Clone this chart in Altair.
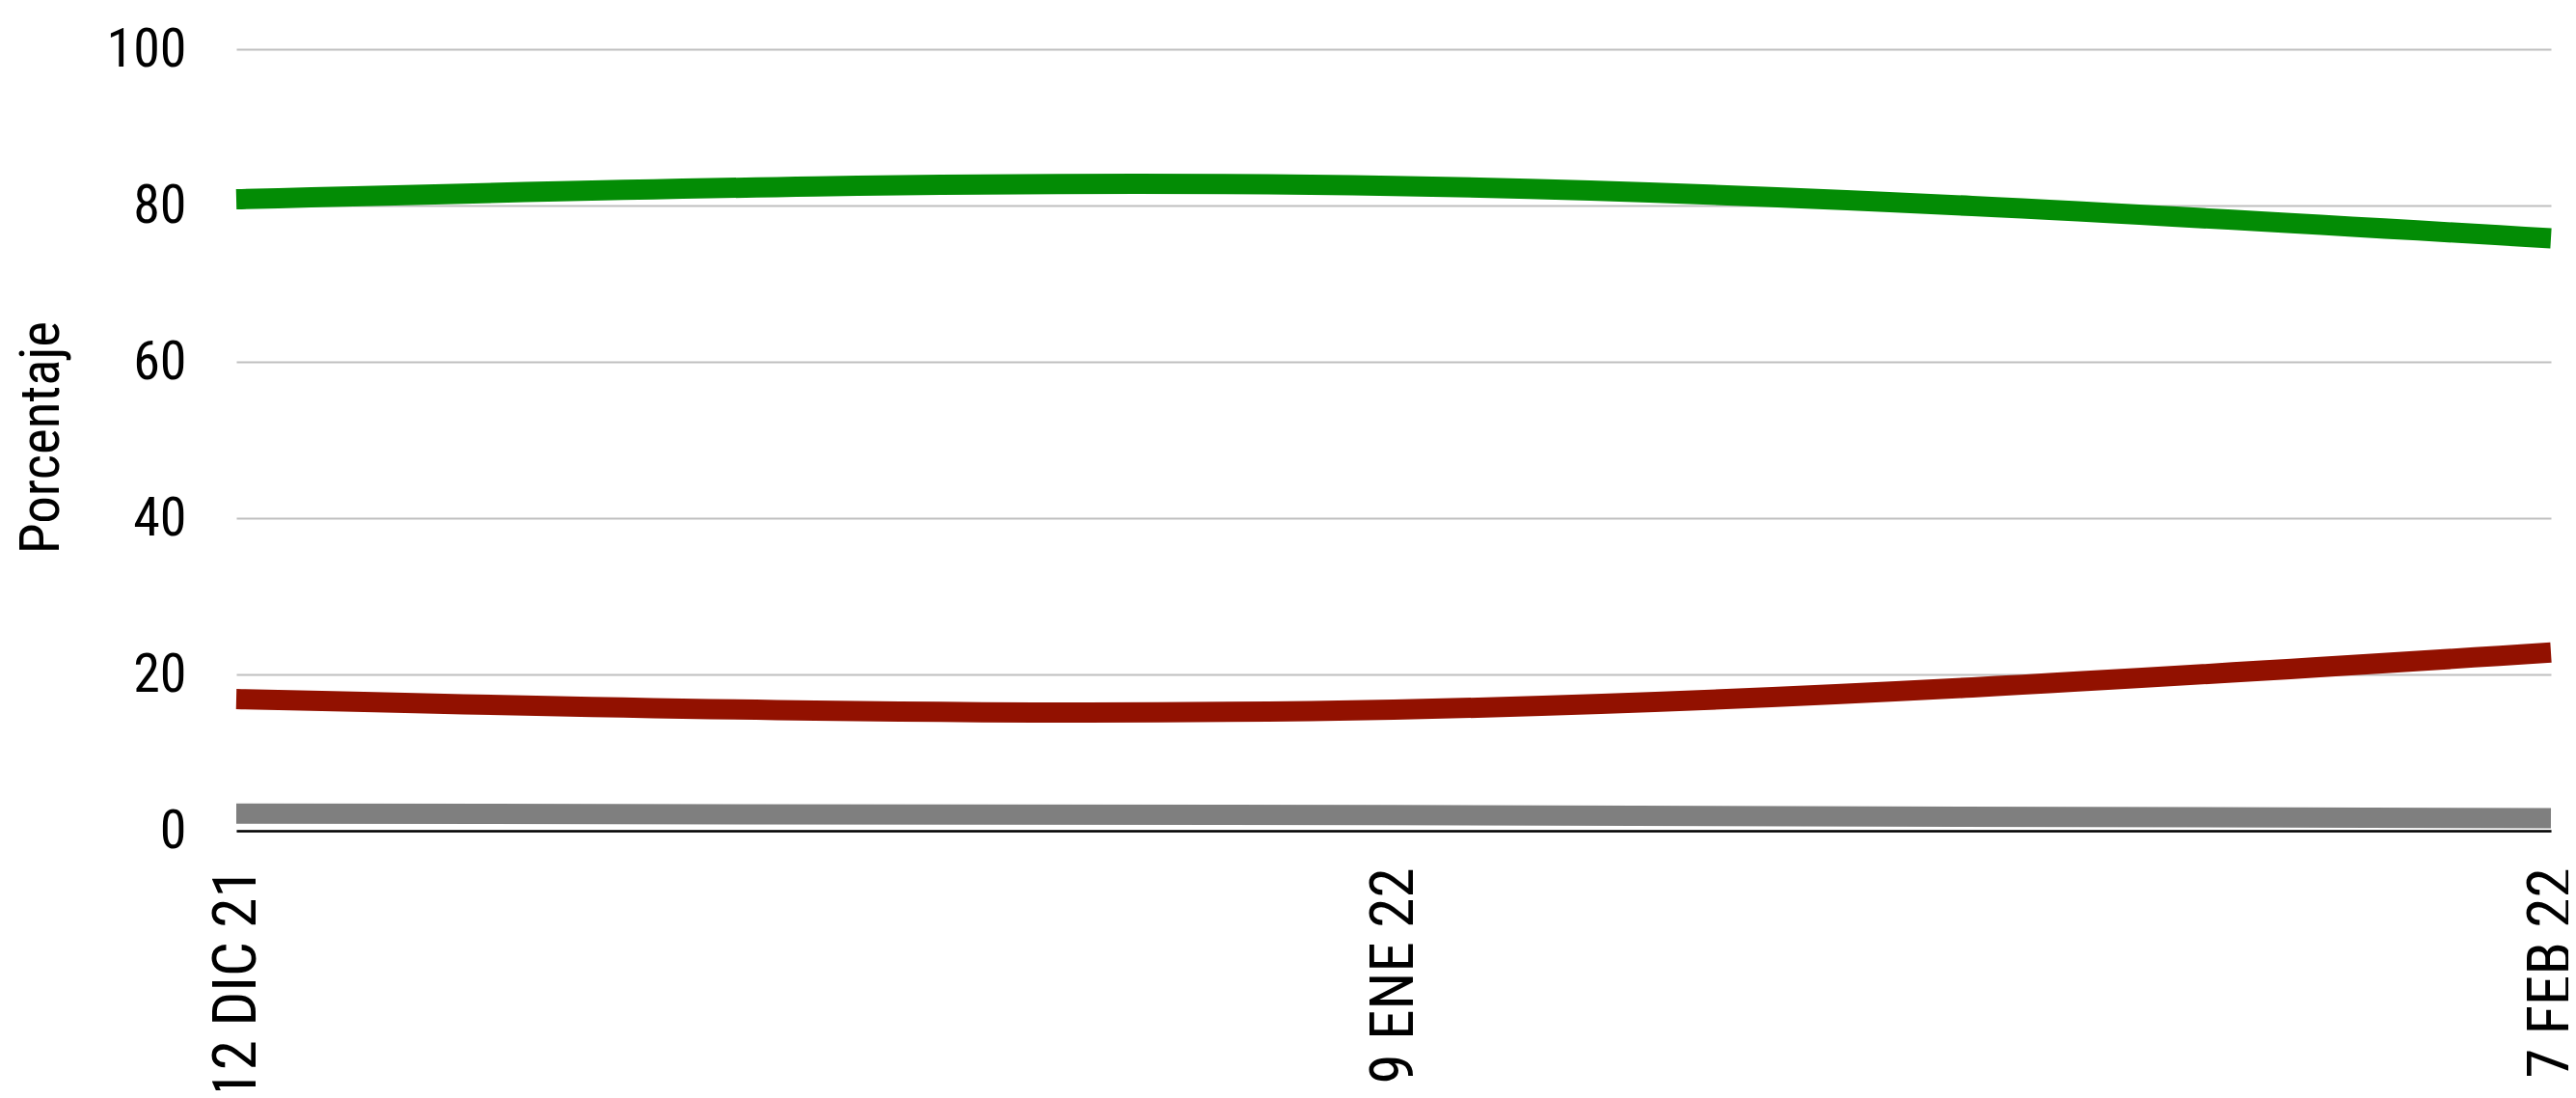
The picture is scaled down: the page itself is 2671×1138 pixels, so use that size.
import altair as alt
import pandas as pd

# --- data ---
fechas = ["12 DIC 21", "9 ENE 22", "7 FEB 22"]
series = ["Serie 1", "Serie 2", "Serie 3"]
serie_1 = [80.8, 82.5, 75.8]   # green
serie_2 = [16.85, 15.5, 22.8]  # dark red
serie_3 = [2.2, 2.0, 1.6]      # grey
colores = ["#038C05", "#921100", "#7F7F7F"]
y_ticks = [0, 20, 40, 60, 80, 100]

rows = []
for name, vals in zip(series, [serie_1, serie_2, serie_3]):
    for f, v in zip(fechas, vals):
        rows.append({"fecha": f, "serie": name, "valor": v})
df = pd.DataFrame(rows)

FONT = "Roboto Condensed"

chart = (
    alt.Chart(df)
    .mark_line(strokeWidth=21, interpolate="natural", strokeCap="butt")
    .encode(
        x=alt.X(
            "fecha:O",
            sort=fechas,
            scale=alt.Scale(type="point", padding=0),
            axis=alt.Axis(
                title=None,
                labelAngle=-90,
                labelAlign="right",
                labelBaseline="middle",
                labelFont=FONT,
                labelFontSize=63,
                labelColor="#000000",
                labelPadding=38,
                labelLimit=0,
                labelOverlap=False,
                ticks=False,
                grid=False,
                domain=True,
                domainColor="#000000",
                domainWidth=2.5,
            ),
        ),
        y=alt.Y(
            "valor:Q",
            scale=alt.Scale(domain=[0, 100], nice=False, zero=True),
            axis=alt.Axis(
                title="Porcentaje",
                values=y_ticks,
                titleFont=FONT,
                titleFontSize=57,
                titleFontWeight="normal",
                titleColor="#000000",
                titleX=-185,
                titleY=402,
                titleAlign="center",
                titleBaseline="alphabetic",
                titleAngle=270,
                labelFont=FONT,
                labelFontSize=56,
                labelColor="#000000",
                labelPadding=52,
                labelBaseline="middle",
                labelLimit=0,
                ticks=False,
                domain=False,
                grid=True,
                gridColor="#BFBFBF",
                gridWidth=2,
            ),
        ),
        color=alt.Color(
            "serie:N",
            scale=alt.Scale(domain=series, range=colores),
            legend=None,
        ),
        order=alt.Order("serie:N"),
    )
    .properties(
        width=2400,
        height=810,
        autosize=alt.AutoSizeParams(type="none"),
        padding={"left": 237, "top": 43, "right": 18, "bottom": 269},
    )
    .configure_view(stroke="transparent", strokeWidth=0)
    .configure(background="#FFFFFF", style={"cell": {"stroke": "transparent", "strokeWidth": 0}})
)

chart.save("out.html", embed_options={"renderer": "svg", "actions": False})
